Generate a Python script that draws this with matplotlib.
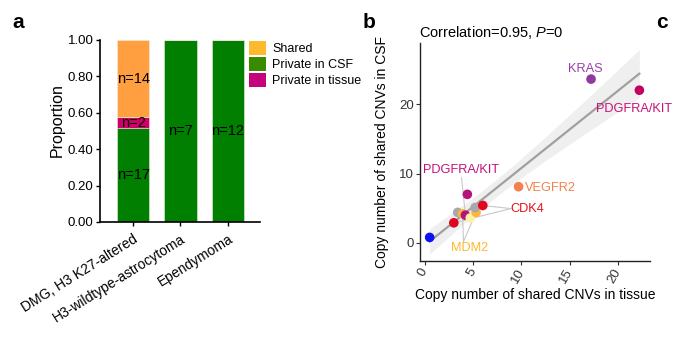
import numpy as np
import matplotlib
matplotlib.use("Agg")
import matplotlib.pyplot as plt
import matplotlib.transforms as mtransforms
from matplotlib.patches import Patch

plt.rcParams['font.family'] = ['Liberation Sans', 'DejaVu Sans']
plt.rcParams['mathtext.fontset'] = 'custom'
plt.rcParams['mathtext.it'] = 'Liberation Sans:italic'
plt.rcParams['mathtext.rm'] = 'Liberation Sans'

# ---- Panel a data ----
categories = ["DMG, H3 K27-altered", "H3-wildtype-astrocytoma", "Ependymoma"]
private_csf_n = [17, 7, 12]
private_tissue_n = [2, 0, 0]
shared_n = [14, 0, 0]
legend_labels = ["Shared", "Private in CSF", "Private in tissue"]

# ---- Panel b data ----
tissue_cn = [0.5, 3.0, 3.4, 3.9, 4.2, 4.7, 5.3, 5.2, 6.0, 4.4, 9.7, 17.2, 22.2]
csf_cn = [0.8, 2.9, 4.4, 4.2, 4.0, 3.6, 4.4, 5.1, 5.4, 7.0, 8.1, 23.6, 22.0]
point_colors = ['#0A14F0', '#E0061F', '#A8A8A8', '#FBB540', '#B5127A', '#FFF0A8',
                '#FBB540', '#A8A8A8', '#E0061F', '#B5127A', '#F5804F', '#8E3A9E', '#C2005F']
gene_labels = ["KRAS", "PDGFRA/KIT", "PDGFRA/KIT", "VEGFR2", "CDK4", "MDM2"]
gene_label_xy = [(16.6, 25.1), (21.6, 19.3), (3.7, 10.5), (13.0, 7.9), (10.6, 4.9), (4.6, -0.7)]
gene_label_colors = ['#9B3FB0', '#C8107A', '#C8107A', '#F5804F', '#E8101A', '#FDB92C']
correlation_text = "Correlation=0.95, $\\it{P}$=0"

W, H = 676, 350
fig = plt.figure(figsize=(W / 100, H / 100), dpi=100)

def fx(px):
    return px / W

def fy(py):
    return 1 - py / H

# ================= Panel a =================
axa = fig.add_axes([fx(100), fy(222), fx(260) - fx(100), fy(40) - fy(222)])
tot = np.array(private_csf_n) + np.array(private_tissue_n) + np.array(shared_n)
p_csf = np.array(private_csf_n) / tot
p_tis = np.array(private_tissue_n) / tot
p_sh = np.array(shared_n) / tot
x = np.arange(len(categories))
bw = 0.68
axa.bar(x, p_csf, bw, color='#007F00', edgecolor='#e8f0e0', linewidth=0.4)
axa.bar(x, p_tis, bw, bottom=p_csf, color='#CC0066', edgecolor='#f0e0e8', linewidth=0.4)
axa.bar(x, p_sh, bw, bottom=p_csf + p_tis, color='#FF9F40', edgecolor='#f8eadc', linewidth=0.4)

for i in range(len(categories)):
    segs = [(private_csf_n[i], 0, p_csf[i]),
            (private_tissue_n[i], p_csf[i], p_tis[i]),
            (shared_n[i], p_csf[i] + p_tis[i], p_sh[i])]
    for n, b, h in segs:
        if n > 0:
            axa.text(x[i], b + h / 2, f"n={n}", ha='center', va='center',
                     fontsize=10.5, color='black')

axa.set_xlim(-0.7, 2.68)
axa.set_ylim(0, 1.0)
axa.set_yticks([0, 0.2, 0.4, 0.6, 0.8, 1.0])
axa.set_yticklabels([f"{v:.2f}" for v in [0, 0.2, 0.4, 0.6, 0.8, 1.0]], fontsize=9.5)
axa.set_xticks(x)
axa.set_xticklabels(categories, rotation=32, ha='right', va='top',
                    rotation_mode='anchor', fontsize=10)
off = mtransforms.ScaledTranslation(0.10, -0.07, fig.dpi_scale_trans)
for lab in axa.get_xticklabels():
    lab.set_transform(lab.get_transform() + off)
axa.tick_params(axis='x', length=3, width=1, pad=4)
axa.tick_params(axis='y', length=3, width=1, pad=1.5)
for s in ['top', 'right']:
    axa.spines[s].set_visible(False)
for s in ['left', 'bottom']:
    axa.spines[s].set_linewidth(1.2)
axa.set_ylabel("Proportion", fontsize=11.5)
axa.yaxis.set_label_coords(-0.22, 0.56)

handles = [Patch(facecolor='#FDBA2C'), Patch(facecolor='#3A8A00'), Patch(facecolor='#C5037D')]
fig.legend(handles, legend_labels, loc='upper left',
           bbox_to_anchor=(fx(249), fy(40.5)), frameon=False, fontsize=9,
           handlelength=1.36, handleheight=1.36, labelspacing=0.16,
           handletextpad=0.5, borderpad=0, borderaxespad=0)

fig.text(fx(12), fy(22), "a", fontsize=15, fontweight='bold', va='center', ha='left')

# ================= Panel b =================
axb = fig.add_axes([fx(420), fy(261), fx(650) - fx(420), fy(43) - fy(261)])
xs = np.array(tissue_cn)
ys = np.array(csf_cn)
coef = np.polyfit(xs, ys, 1)
xx = np.linspace(xs.min(), xs.max(), 100)
yy = np.polyval(coef, xx)
n = len(xs)
resid = ys - np.polyval(coef, xs)
s_err = np.sqrt(np.sum(resid ** 2) / (n - 2))
se = s_err * np.sqrt(1 / n + (xx - xs.mean()) ** 2 / np.sum((xs - xs.mean()) ** 2))
tval = 2.201
axb.fill_between(xx, yy - tval * se, yy + tval * se, color='#EBEBEB', alpha=0.8,
                 linewidth=0, zorder=1)
axb.plot(xx, yy, color='#A0A0A0', lw=1.6, zorder=2)

# connector segments (label -> point)
seg_color = '#C8C8C8'
def seg(p0, p1):
    axb.plot([p0[0], p1[0]], [p0[1], p1[1]], color=seg_color, lw=0.8, zorder=2.5)

seg((3.8, 9.4), (tissue_cn[4], csf_cn[4]))
seg((8.9, 4.95), (tissue_cn[8], csf_cn[8]))
seg((8.9, 4.95), (tissue_cn[1], csf_cn[1]))
seg((4.0, 0.2), (tissue_cn[3], csf_cn[3]))
seg((4.0, 0.2), (tissue_cn[6], csf_cn[6]))

axb.scatter(xs, ys, s=48, c=point_colors, edgecolors='none', zorder=3, clip_on=False)

for lab, (lx, ly), c in zip(gene_labels, gene_label_xy, gene_label_colors):
    axb.text(lx, ly, lab, color=c, fontsize=9.2, ha='center', va='center',
             zorder=4, clip_on=False)

axb.set_xlim(-0.5, 23.3)
axb.set_ylim(-2.6, 28.8)
axb.set_xticks([0, 5, 10, 15, 20])
axb.set_yticks([0, 10, 20])
axb.set_xticklabels(['0', '5', '10', '15', '20'], rotation=60, ha='right', va='center',
                    rotation_mode='anchor', fontsize=9.5, color='#333333')
axb.set_yticklabels(['0', '10', '20'], fontsize=9.5, color='#333333')
axb.tick_params(axis='both', length=3, width=0.8, color='#333333')
axb.tick_params(axis='x', pad=3)
axb.tick_params(axis='y', pad=1.5)
for s in ['top', 'right']:
    axb.spines[s].set_visible(False)
for s in ['left', 'bottom']:
    axb.spines[s].set_linewidth(1.0)
    axb.spines[s].set_color('#222222')
axb.set_xlabel("Copy number of shared CNVs in tissue", fontsize=10, labelpad=2)
axb.set_ylabel("Copy number of shared CNVs in CSF", fontsize=10)
axb.yaxis.set_label_coords(-0.135, 0.5)
axb.set_title(correlation_text, loc='left', fontsize=10.5, pad=4, x=-0.005)

fig.text(fx(363), fy(23), "b", fontsize=15, fontweight='bold', va='center', ha='left')
fig.text(fx(656), fy(23), "c", fontsize=15, fontweight='bold', va='center', ha='left')

fig.savefig("out.png", dpi=100)
